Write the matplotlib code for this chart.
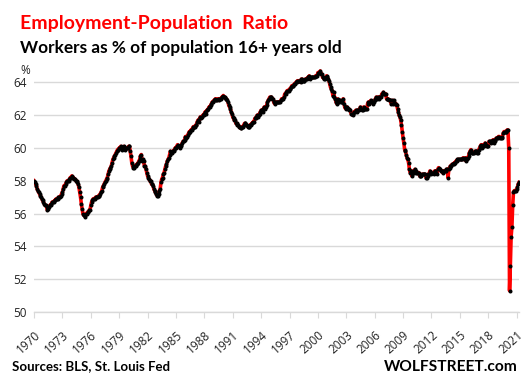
import numpy as np
import matplotlib
matplotlib.use("Agg")
import matplotlib.pyplot as plt

# monthly employment-population ratio, Jan 1970 .. Apr 2021
ratio_1970s = [
    58.0, 57.9, 57.8, 57.7, 57.5, 57.4, 57.3, 57.2, 57.1, 57.0, 56.9, 56.8,  # 1970
    56.7, 56.6, 56.5, 56.5, 56.4, 56.2, 56.3, 56.4, 56.5, 56.5, 56.6, 56.7,  # 1971
    56.7, 56.7, 56.8, 56.8, 56.9, 56.9, 56.9, 57.0, 57.0, 57.0, 57.1, 57.2,  # 1972
    57.3, 57.5, 57.7, 57.7, 57.8, 57.9, 58.0, 58.0, 58.0, 58.1, 58.2, 58.2,  # 1973
    58.3, 58.2, 58.2, 58.1, 58.1, 58.0, 58.0, 57.9, 57.8, 57.6, 57.3, 57.0,  # 1974
    56.6, 56.3, 56.0, 55.9, 55.9, 55.8, 56.0, 56.0, 56.1, 56.1, 56.2, 56.2,  # 1975
    56.5, 56.7, 56.8, 56.9, 56.9, 56.9, 57.0, 57.0, 57.0, 57.0, 57.1, 57.1,  # 1976
    57.2, 57.3, 57.4, 57.6, 57.7, 57.8, 57.9, 58.0, 58.1, 58.2, 58.4, 58.6,  # 1977
    58.7, 58.8, 58.9, 59.1, 59.3, 59.4, 59.5, 59.6, 59.7, 59.8, 59.9, 59.9,  # 1978
    60.0, 60.0, 60.1, 60.0, 59.9, 60.0, 60.1, 60.0, 59.9, 60.0, 60.0, 60.0,  # 1979
]
ratio_1980s = [
    60.1, 60.1, 59.8, 59.5, 59.1, 58.9, 58.8, 58.8, 58.9, 58.9, 59.0, 59.0,  # 1980
    59.1, 59.2, 59.3, 59.5, 59.6, 59.2, 59.3, 59.2, 58.9, 58.9, 58.7, 58.5,  # 1981
    58.3, 58.2, 58.1, 58.0, 58.0, 57.8, 57.8, 57.7, 57.5, 57.4, 57.3, 57.2,  # 1982
    57.1, 57.1, 57.2, 57.4, 57.5, 57.9, 58.1, 58.2, 58.4, 58.5, 58.7, 58.9,  # 1983
    59.0, 59.2, 59.3, 59.4, 59.6, 59.8, 59.7, 59.7, 59.8, 59.8, 59.9, 60.0,  # 1984
    60.0, 60.1, 60.2, 60.1, 60.1, 60.0, 60.1, 60.2, 60.3, 60.4, 60.4, 60.5,  # 1985
    60.7, 60.6, 60.7, 60.8, 60.9, 61.0, 61.0, 61.1, 61.1, 61.2, 61.3, 61.3,  # 1986
    61.3, 61.4, 61.4, 61.6, 61.7, 61.6, 61.8, 61.9, 61.8, 61.9, 62.0, 62.0,  # 1987
    62.1, 62.2, 62.1, 62.3, 62.3, 62.4, 62.5, 62.5, 62.6, 62.7, 62.8, 62.8,  # 1988
    62.9, 62.9, 63.0, 62.9, 62.9, 63.0, 63.0, 62.9, 63.0, 63.0, 63.1, 63.1,  # 1989
]
ratio_1990s = [
    63.2, 63.1, 63.1, 63.0, 63.0, 62.9, 62.8, 62.6, 62.5, 62.4, 62.2, 62.1,  # 1990
    61.9, 61.8, 61.7, 61.7, 61.5, 61.5, 61.4, 61.4, 61.3, 61.3, 61.2, 61.2,  # 1991
    61.3, 61.3, 61.4, 61.5, 61.5, 61.4, 61.4, 61.3, 61.3, 61.3, 61.4, 61.4,  # 1992
    61.5, 61.5, 61.6, 61.6, 61.8, 61.8, 61.9, 62.0, 61.9, 62.0, 62.1, 62.2,  # 1993
    62.3, 62.3, 62.2, 62.4, 62.5, 62.4, 62.5, 62.6, 62.8, 62.9, 63.0, 63.1,  # 1994
    63.1, 63.1, 63.0, 63.0, 62.8, 62.7, 62.8, 62.8, 62.8, 62.8, 62.8, 62.8,  # 1995
    62.8, 62.9, 63.0, 63.0, 63.0, 63.1, 63.3, 63.3, 63.4, 63.5, 63.5, 63.5,  # 1996
    63.6, 63.6, 63.7, 63.8, 63.8, 63.8, 63.9, 63.9, 64.0, 64.0, 64.1, 64.1,  # 1997
    64.1, 64.1, 64.0, 64.2, 64.2, 64.1, 64.1, 64.1, 64.2, 64.2, 64.2, 64.3,  # 1998
    64.3, 64.4, 64.2, 64.3, 64.3, 64.3, 64.3, 64.3, 64.3, 64.4, 64.4, 64.4,  # 1999
]
ratio_2000s = [
    64.6, 64.6, 64.6, 64.7, 64.5, 64.5, 64.3, 64.3, 64.2, 64.2, 64.3, 64.4,  # 2000
    64.3, 64.2, 64.1, 63.9, 63.7, 63.6, 63.5, 63.2, 63.4, 63.1, 63.0, 62.8,  # 2001
    62.7, 63.0, 62.8, 62.8, 62.9, 62.8, 62.8, 62.8, 63.0, 62.7, 62.5, 62.4,  # 2002
    62.5, 62.5, 62.4, 62.4, 62.3, 62.3, 62.1, 62.1, 62.0, 62.1, 62.2, 62.2,  # 2003
    62.3, 62.3, 62.2, 62.3, 62.3, 62.4, 62.5, 62.4, 62.3, 62.3, 62.5, 62.4,  # 2004
    62.4, 62.4, 62.4, 62.7, 62.8, 62.7, 62.8, 62.9, 62.8, 62.8, 62.7, 62.8,  # 2005
    62.9, 63.0, 63.1, 63.0, 63.1, 63.1, 63.0, 63.1, 63.1, 63.3, 63.3, 63.4,  # 2006
    63.3, 63.3, 63.3, 63.0, 63.0, 63.0, 62.9, 62.9, 62.9, 62.7, 62.9, 62.7,  # 2007
    62.9, 62.8, 62.7, 62.7, 62.6, 62.4, 62.2, 62.0, 61.9, 61.7, 61.4, 61.0,  # 2008
    60.6, 60.3, 59.9, 59.8, 59.6, 59.4, 59.3, 59.1, 58.7, 58.5, 58.6, 58.3,  # 2009
]
ratio_2010s = [
    58.5, 58.6, 58.5, 58.7, 58.6, 58.5, 58.5, 58.5, 58.5, 58.3, 58.3, 58.3,  # 2010
    58.4, 58.4, 58.4, 58.4, 58.4, 58.2, 58.2, 58.3, 58.4, 58.4, 58.6, 58.5,  # 2011
    58.4, 58.5, 58.5, 58.4, 58.6, 58.6, 58.5, 58.4, 58.7, 58.8, 58.7, 58.7,  # 2012
    58.6, 58.6, 58.5, 58.6, 58.6, 58.6, 58.6, 58.7, 58.7, 58.2, 58.7, 58.8,  # 2013
    58.9, 58.9, 59.0, 59.0, 59.0, 59.1, 59.1, 59.2, 59.2, 59.3, 59.3, 59.3,  # 2014
    59.3, 59.3, 59.3, 59.3, 59.4, 59.3, 59.3, 59.4, 59.2, 59.3, 59.4, 59.5,  # 2015
    59.7, 59.8, 59.9, 59.7, 59.7, 59.7, 59.7, 59.8, 59.8, 59.8, 59.7, 59.7,  # 2016
    59.9, 60.0, 60.1, 60.2, 60.0, 60.1, 60.2, 60.1, 60.3, 60.2, 60.1, 60.1,  # 2017
    60.1, 60.4, 60.4, 60.3, 60.4, 60.4, 60.5, 60.3, 60.4, 60.5, 60.6, 60.6,  # 2018
    60.6, 60.7, 60.7, 60.6, 60.6, 60.6, 60.7, 60.9, 61.0, 61.0, 61.0, 61.0,  # 2019
]
ratio_2020s = [
    61.1, 61.1, 60.0, 51.3, 52.8, 54.6, 55.2, 56.5, 57.3, 57.4, 57.4, 57.4,  # 2020
    57.5, 57.6, 57.8, 57.9,                                                  # 2021
]

tick_years = list(range(1970, 2022, 3))
y_ticks = [50, 52, 54, 56, 58, 60, 62, 64]

ratio = np.array(ratio_1970s + ratio_1980s + ratio_1990s + ratio_2000s
                 + ratio_2010s + ratio_2020s)
months = np.arange(len(ratio))

fig = plt.figure(figsize=(5.26, 3.88), dpi=100)
ax = fig.add_axes([34 / 526, 76 / 388, 485 / 526, 246 / 388])

grid_col = "#d9d9d9"
ax.plot(months, ratio, color="red", lw=2.6, zorder=3)
ax.plot(months, ratio, "o", color="black", ms=2.9, mew=0, zorder=4)

ax.set_xlim(0, len(ratio) - 1)
ax.set_ylim(50, 65)
ax.set_yticks(y_ticks)
ax.set_yticklabels([str(v) for v in y_ticks], fontsize=8.5, color="#222222",
                   family="Open Sans")
ax.set_xticks([(y - 1970) * 12 for y in tick_years])
ax.set_xticklabels([str(y) for y in tick_years], rotation=42, ha="right",
                   rotation_mode="anchor", fontsize=8.5, color="#222222",
                   family="Open Sans")

ax.grid(axis="y", color=grid_col, lw=1)
ax.set_axisbelow(True)
for s in ["top", "right", "left"]:
    ax.spines[s].set_visible(False)
ax.spines["bottom"].set_color(grid_col)
ax.spines["bottom"].set_linewidth(1)
ax.tick_params(axis="y", length=0, pad=5)
ax.tick_params(axis="x", length=4, color=grid_col, pad=8)

fig.text(20 / 526, 1 - 24 / 388, "Employment-Population  Ratio", color="red",
         fontsize=14, fontweight="bold", family="Lato", va="center")
fig.text(20 / 526, 1 - 48 / 388, "Workers as % of population 16+ years old",
         color="black", fontsize=12.4, fontweight="bold", family="Lato",
         va="center")
fig.text(25 / 526, 1 - 70 / 388, "%", fontsize=8.5, color="#222222",
         family="Open Sans", ha="center", va="center")
fig.text(12 / 526, 1 - 366 / 388, "Sources: BLS, St. Louis Fed", fontsize=9.5,
         fontweight="bold", family="Lato", va="center")
fig.text(518 / 526, 1 - 367 / 388, "WOLFSTREET.com", fontsize=11.2,
         fontweight="bold", family="Lato", ha="right", va="center")

fig.savefig("out.png", dpi=100)
